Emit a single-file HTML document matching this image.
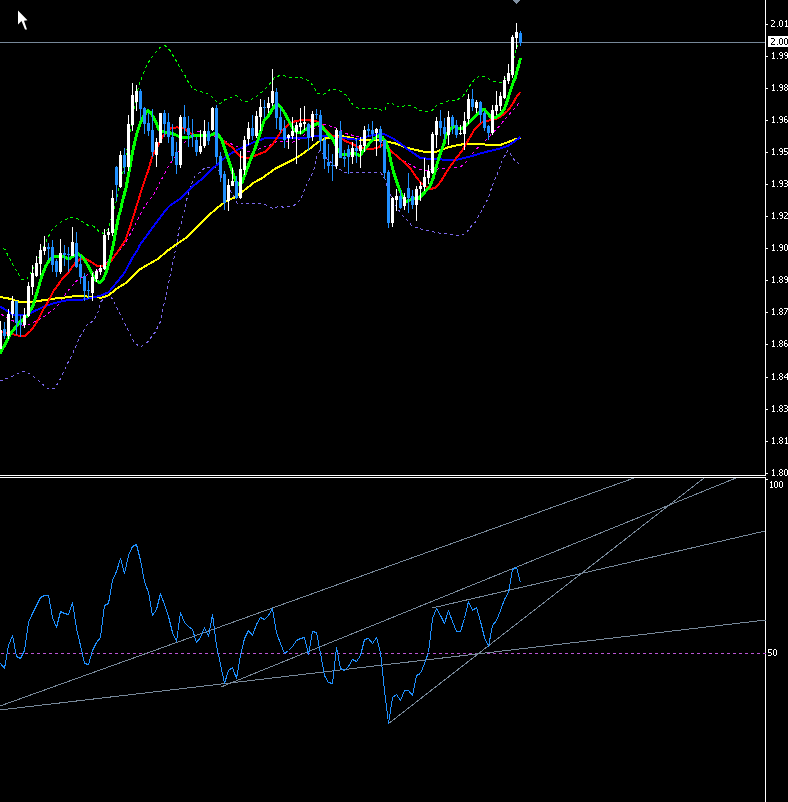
<!DOCTYPE html>
<html><head><meta charset="utf-8"><style>
html,body{margin:0;padding:0;background:#000;width:788px;height:802px;overflow:hidden}
svg{display:block}
.t{font-family:"Liberation Sans",sans-serif;font-size:9.5px;fill:#fff}
.tg{filter:grayscale(1)}
</style></head><body>
<svg width="788" height="802" viewBox="0 0 788 802">
<rect width="788" height="802" fill="#000"/>
<line x1="0" y1="42.5" x2="765" y2="42.5" stroke="#778899" stroke-width="1"/>
<path d="M513 0h7v1h-7zM514 1h5v1h-5zM515 2h3v1h-3zM516 3h1v1h-1z" fill="#8090a2"/>
<polyline points="3,248 5.6,250.2 7.5,254.7 11.4,261.5 14.1,267.2 17.9,273.3 21.3,279.4 26.7,279.4 30.1,273.7 33.9,266.9 37.3,260.3 45.4,243 48,237.4 51.5,230.8 57,225.2 63.1,220.7 69.7,217.6 75.3,217.6 81.4,221 87.5,225 93.6,226.2 98.7,231.3 103.6,233.5 109.1,227.9 110.2,221.8 114.2,209.6 115.7,202.5 117.8,196.4 118.3,191.3 122.8,173 130.3,131 131.3,125.8 134.4,107.6 137.9,89.3 139.1,84.8 141.7,77.7 144.2,71.1 146.8,65 150.3,59.4 155.4,52.8 160,47.3 165,45.7 170.6,51.3 174.2,57.4 177.7,63.5 181.3,69.6 184.8,75.2 187.9,81.3 191.9,87.4 198,91.4 204.1,92.4 209.7,94.5 214.5,100 219.5,104 224.6,100 230.7,97.4 236.3,95.4 241.4,100.5 247.5,101.5 253.5,98.4 259.6,93.9 265.1,89.4 269.6,83.9 274.2,77.8 280.3,75.2 286.4,76.2 292.5,78.3 298.6,76.8 304.2,78.8 310.3,81.8 313.8,87.4 317.9,93.5 323.5,94.5 329.5,90 335.6,89.4 341.1,91.5 347.2,96.1 350.7,102.2 355.3,107.3 361.4,108.8 367.5,108.3 373.6,108.3 379.7,109.8 384.7,110.8 386.8,104.2 390.8,102.2 396.9,106.8 403,106.2 409.1,105.2 414.5,107.1 420.1,110.6 426.2,111.6 432.3,110.1 437.4,104.5 443.5,103 449.6,100.5 455.7,100 461.7,97.9 465.8,91.8 469.4,86.2 473.9,80.2 479.5,75.6 485.2,76.7 491.4,80.7 497.5,82.6 502.5,82.2 510.4,72.6 514.6,55 515.7,50.1 518.4,43.6 520,40" fill="none" stroke="#00ff00" stroke-width="1" stroke-linejoin="round" stroke-dasharray="3,3" shape-rendering="crispEdges"/>
<polyline points="0,381 9.1,377.7 22.8,371.3 29.7,373.6 37.7,380 48,389 54.8,388 60.5,378.8 66.2,366.2 73.1,352.5 80,336.5 86.8,325 93.7,320.6 98.2,311.4 100.4,302 106,297 110.5,296.3 113.6,301 116.6,307.5 120.7,315 129,332 134.8,343.4 140.5,346.8 147.3,342.3 155.3,332 161,320.6 162.6,309.7 166,296 169.5,278.2 173.6,259.7 176.4,245.3 179.1,228.8 181.2,224 183.9,212.3 186.6,200 188.6,192.8 192.1,182.6 195.2,175.5 200.2,172.5 205.3,167.4 211.4,167.4 217.5,168 222.6,179 233.7,196 236.8,203 242.9,204 249,203.5 255.1,203 261.2,203.5 266.1,205.1 272.2,208.2 278.3,206.6 284.4,207.2 290.5,206.1 296,204.6 300.6,199 303.7,191.9 306.2,185.8 309.2,179.7 312.3,173.7 314.3,168.1 315.6,162.5 316.9,155.9 319.9,150.3 327.5,159.4 337.5,167.6 344.1,172.2 350.2,172.7 380.7,172.7 385.2,179.3 386.3,184.4 394.4,203.7 397.9,208.7 401.5,214.8 407.1,220.1 412.2,226.2 418.3,228.2 424.4,230.3 430.5,230.8 436,232.8 442.6,233.3 448.7,234.3 454.3,235.3 460.9,235.3 465.5,233.8 470,227.7 475.1,222.6 478.7,216 482,210 485.1,204 488.1,198.4 490.2,192.3 492,186 494.5,180.4 497.1,174.3 499.6,168.2 501.6,162.1 504.7,156 507.7,150.5 510.8,154.5 514.3,160.1 518.9,163.7" fill="none" stroke="#7b68ee" stroke-width="1" stroke-linejoin="round" stroke-dasharray="3,3" shape-rendering="crispEdges"/>
<polyline points="1.1,314 4,316 14.6,321.6 20.2,326 27,325.6 33.7,322.2 39.3,319.4 45,316 50.5,311.5 57.2,306.5 65.1,294.7 69.7,288.7 74.8,282.6 79,279 86,275.5 98.2,270 120.7,249 125.4,243 128.4,237.5 131.5,232 135,224.8 140.6,213.7 143.5,208.2 148.5,201 153.6,195 156.7,188.9 159.7,182.8 162.8,177.2 165.8,171.1 168.9,165 172.9,160 185.1,141.7 190.2,136.1 195.2,132 202.3,131 250,152.2 257.1,149.6 262.2,147.6 268.6,145.7 275.2,142.2 280.3,141.2 286.4,141.7 292.5,142.2 299.1,139.6 304.7,134.1 323,124 329,125.5 334.1,127.5 339.6,129.1 346.2,133.7 381.2,142.3 389.8,149.9 393.9,154 400,159 406,162.1 412.1,165.6 418.6,169.4 424.2,170.5 431.3,169.9 442.5,168.4 454.6,167.4 460.7,166.9 465.8,162.3 475.2,150.5 479.8,145.4 486.4,139.8 491,134.7 497.6,128.1 502.1,122.6 507.4,116.5 512.4,110.7 517.7,104.7 520,102" fill="none" stroke="#ff00ff" stroke-width="1" stroke-linejoin="round" stroke-dasharray="3,3" shape-rendering="crispEdges"/>
<polyline points="0,297 9,298.6 20.2,302 33.7,302 42.6,300.3 53.9,298.6 70,297 76,295.6 101.4,297.7 108.5,295.3 118.6,287.2 126.8,282.6 133.9,275 140,269.3 148.2,264.5 157.8,259 167.4,250.8 177,243.9 185.3,238.4 190.8,233.6 204.5,219.2 217.5,207.5 226.6,200.9 235.8,196.9 244.9,189.7 254,182.6 264,177 268.1,173.7 276.2,168.1 285.4,163.5 294.5,158.9 302.6,153.9 310.8,147.8 318.9,141.7 325,138.6 333.1,137.1 340,136.1 346.2,136.7 352.2,138.2 360.4,139.7 369.5,140.3 376.6,139.7 382.7,140.3 389.8,142.3 396.9,143.8 405,147.4 412,149.1 424.2,151.7 436.4,151.7 448.5,147.1 460.7,144.6 469.9,143.6 484.4,143.9 485.4,144.9 500.6,144.9 508.7,141.8 514.8,139.3 520.4,137.8" fill="none" stroke="#ffff00" stroke-width="2" stroke-linejoin="round" shape-rendering="crispEdges"/>
<polyline points="0,306.5 9,312 13.5,315 25.8,315 33.7,311.5 45,306 58.4,302 70,299.7 76,300 84.1,299.4 100.4,295.8 108.5,292.3 116.6,282.6 124.7,272.5 132.9,256.8 137.6,250 140,244.6 148.2,233.6 157.8,220.6 162.9,213.7 167.4,208.2 170,205.5 178.4,200 184,195.3 192.1,186.7 201.3,179.6 210.4,170.5 218.5,163.4 226.6,156.2 234.8,151.2 243.9,146.6 253,142.5 260.1,140 264,138.5 266.1,137.6 280.3,137.7 305.7,137.7 317.9,135.6 331.1,136.1 340,137.7 348.2,138.7 356.3,139.7 366.5,136.7 374.6,134.7 382.7,133.7 387.8,135.7 394.9,139.7 402,144.8 409.1,150.4 412,152.2 420.1,157.8 432.3,159.3 456.7,159.8 460,159.1 470.2,156.5 485.4,152 500.6,148.4 508.7,145.4 514.8,141.3 520.4,136.8" fill="none" stroke="#0000ff" stroke-width="2" stroke-linejoin="round" shape-rendering="crispEdges"/>
<polyline points="0,331 12.3,334 20.2,336.2 25.3,335.7 30.6,331 36.7,322.3 43.7,308.8 48.9,300.5 53.8,290.5 58.4,284.6 60.6,281 68.7,272 75.3,262.8 80,259.2 86,259.2 91,261.8 96.8,265.9 102.9,265.9 110.5,261.8 116.6,253.2 125.4,240 129.4,228.9 135.4,210 142.5,186.9 148.5,169.6 152.6,155.4 158.7,144.2 162.8,136.1 166.9,131.9 170.9,128.4 177,127.4 183.1,127.9 190.1,133 197.2,136 204.3,135 211.4,134.5 217.5,135 224.6,142 232.7,147.6 236.8,153.2 241.9,157.3 248,158.3 255.1,155.7 264,152.2 266.1,151.3 271.2,146.2 276.2,139.1 281.3,131.1 289.4,124 294.5,121.4 302.6,119.9 309.7,120.4 316.9,121.4 321.9,125 327,131.1 332.1,136.1 338,136.7 346.2,141.3 353.3,144.3 359.4,147.9 366.5,148.9 376.6,148.4 381.7,145.3 386.8,144.8 390.8,150.9 396.9,156 405,163.1 411.1,169.2 416,176.8 421.6,183.7 430.3,189.2 436.4,187.2 441.4,180.6 447.5,170.5 454.6,160.3 461.7,151.2 468.9,139 474.9,128.9 481,122.8 486.1,120.8 491.4,120.3 497.5,118.4 502.8,114.9 507.4,111.1 512,105 515.8,98.2 520,92.1" fill="none" stroke="#ff0000" stroke-width="2" stroke-linejoin="round" shape-rendering="crispEdges"/>
<polyline points="0,353.6 11.2,332.8 19,322.7 27,316 32.5,307 37.8,290 41.8,276 45.4,266.9 49.4,259.7 53.5,256.7 59.6,256.2 63.7,256.7 68.7,259.2 73.8,255.7 78.4,253.7 83.5,258.2 87.2,264.4 91.2,271.5 94.8,279.6 99.4,282.6 102.9,279.6 106.5,271.5 110.5,257.3 113.5,244 115.7,231 118.8,215.7 120.6,210 121.8,203.5 126,188 129.4,170 132.5,152 136.4,135 140.5,122.8 144.5,114.7 147.6,110.6 150.6,112.6 154.7,119.7 158.7,128.9 162.8,131.9 168.9,132.4 175,134.5 181,137.5 187.2,138 196.2,135 202.3,135.5 208.4,136 214.5,133.5 217.5,134 221.6,139 225.6,151.2 229.7,163.4 233.7,175.5 237.3,184.7 241.9,182.6 246.9,169.4 251,158.3 255.1,148.1 259,137 264,120.8 269.1,114.8 274.2,106.2 278.3,104.7 283.4,110.8 288.4,119.9 292.5,127.5 296.5,132 300.6,133.1 304.7,130 309.7,127 314.8,125 317.9,123 323,128 328,134.1 333.1,139.2 337,148 341,154 344.1,155 352.2,153 359.9,155.5 366.5,146.9 372.5,139.7 378.6,135.7 382.7,137.7 385.7,141.8 388.8,150.9 391.3,163.1 393.9,173.2 397.9,185.4 402,195.5 406,201.6 411.1,199.6 416,197.6 418.1,198.9 424.2,192.8 429.8,186.7 433.3,177.6 436.9,164.4 440.4,153.2 444.5,142 445.5,136 451.4,128 454.4,126.5 457,128 462.8,128 466.2,125.2 470,121.4 472.9,118.7 479,112.6 484.1,109.1 486.9,112.3 491.4,117.6 496,117.2 500.6,114.2 504.4,108.8 506.7,102.7 509.7,92.8 512.7,83.7 515,78.4 516.9,71.5 520.6,58.1" fill="none" stroke="#00ff00" stroke-width="3" stroke-linejoin="round" shape-rendering="crispEdges"/>
<rect x="0" y="321" width="1" height="28" fill="#ffffff"/>
<rect x="-1" y="330" width="3" height="19" fill="#ffffff"/>
<rect x="4" y="322" width="1" height="17" fill="#2090ff"/>
<rect x="3" y="329" width="3" height="7" fill="#2090ff"/>
<rect x="8" y="309" width="1" height="30" fill="#ffffff"/>
<rect x="7" y="314" width="3" height="22" fill="#ffffff"/>
<rect x="12" y="296" width="1" height="22" fill="#ffffff"/>
<rect x="11" y="301" width="3" height="13" fill="#ffffff"/>
<rect x="16" y="301" width="1" height="34" fill="#2090ff"/>
<rect x="15" y="301" width="3" height="22" fill="#2090ff"/>
<rect x="20" y="315" width="1" height="22" fill="#2090ff"/>
<rect x="19" y="323" width="3" height="2" fill="#2090ff"/>
<rect x="24" y="308" width="1" height="20" fill="#ffffff"/>
<rect x="23" y="315" width="3" height="10" fill="#ffffff"/>
<rect x="28" y="282" width="1" height="35" fill="#ffffff"/>
<rect x="27" y="286" width="3" height="30" fill="#ffffff"/>
<rect x="32" y="265" width="1" height="30" fill="#ffffff"/>
<rect x="31" y="273" width="3" height="14" fill="#ffffff"/>
<rect x="36" y="256" width="1" height="21" fill="#ffffff"/>
<rect x="35" y="263" width="3" height="13" fill="#ffffff"/>
<rect x="40" y="244" width="1" height="31" fill="#ffffff"/>
<rect x="39" y="250" width="3" height="14" fill="#ffffff"/>
<rect x="44" y="236" width="1" height="19" fill="#ffffff"/>
<rect x="43" y="247" width="3" height="4" fill="#ffffff"/>
<rect x="48" y="243" width="1" height="17" fill="#2090ff"/>
<rect x="47" y="247" width="3" height="2" fill="#2090ff"/>
<rect x="52" y="240" width="1" height="32" fill="#2090ff"/>
<rect x="51" y="247" width="3" height="18" fill="#2090ff"/>
<rect x="56" y="259" width="1" height="18" fill="#2090ff"/>
<rect x="55" y="261" width="3" height="11" fill="#2090ff"/>
<rect x="60" y="239" width="1" height="35" fill="#ffffff"/>
<rect x="59" y="253" width="3" height="19" fill="#ffffff"/>
<rect x="64" y="245" width="1" height="21" fill="#2090ff"/>
<rect x="63" y="253" width="3" height="2" fill="#2090ff"/>
<rect x="68" y="247" width="1" height="25" fill="#2090ff"/>
<rect x="67" y="254" width="3" height="1" fill="#2090ff"/>
<rect x="72" y="227" width="1" height="29" fill="#ffffff"/>
<rect x="71" y="242" width="3" height="14" fill="#ffffff"/>
<rect x="76" y="232" width="1" height="36" fill="#2090ff"/>
<rect x="75" y="243" width="3" height="24" fill="#2090ff"/>
<rect x="80" y="255" width="1" height="29" fill="#2090ff"/>
<rect x="79" y="264" width="3" height="13" fill="#2090ff"/>
<rect x="84" y="273" width="1" height="28" fill="#2090ff"/>
<rect x="83" y="276" width="3" height="15" fill="#2090ff"/>
<rect x="88" y="281" width="1" height="18" fill="#2090ff"/>
<rect x="87" y="290" width="3" height="1" fill="#2090ff"/>
<rect x="92" y="273" width="1" height="28" fill="#ffffff"/>
<rect x="91" y="277" width="3" height="16" fill="#ffffff"/>
<rect x="96" y="269" width="1" height="13" fill="#ffffff"/>
<rect x="95" y="271" width="3" height="8" fill="#ffffff"/>
<rect x="100" y="265" width="1" height="10" fill="#ffffff"/>
<rect x="99" y="268" width="3" height="4" fill="#ffffff"/>
<rect x="104" y="229" width="1" height="41" fill="#ffffff"/>
<rect x="103" y="235" width="3" height="34" fill="#ffffff"/>
<rect x="108" y="228" width="1" height="12" fill="#ffffff"/>
<rect x="107" y="232" width="3" height="3" fill="#ffffff"/>
<rect x="112" y="190" width="1" height="46" fill="#ffffff"/>
<rect x="111" y="198" width="3" height="35" fill="#ffffff"/>
<rect x="116" y="166" width="1" height="35" fill="#2090ff"/>
<rect x="115" y="167" width="3" height="18" fill="#2090ff"/>
<rect x="120" y="151" width="1" height="37" fill="#ffffff"/>
<rect x="119" y="155" width="3" height="32" fill="#ffffff"/>
<rect x="124" y="148" width="1" height="26" fill="#2090ff"/>
<rect x="123" y="155" width="3" height="12" fill="#2090ff"/>
<rect x="128" y="115" width="1" height="56" fill="#ffffff"/>
<rect x="127" y="124" width="3" height="43" fill="#ffffff"/>
<rect x="132" y="83" width="1" height="48" fill="#ffffff"/>
<rect x="131" y="95" width="3" height="30" fill="#ffffff"/>
<rect x="136" y="85" width="1" height="26" fill="#ffffff"/>
<rect x="135" y="91" width="3" height="11" fill="#ffffff"/>
<rect x="140" y="89" width="1" height="31" fill="#2090ff"/>
<rect x="139" y="91" width="3" height="18" fill="#2090ff"/>
<rect x="144" y="107" width="1" height="27" fill="#2090ff"/>
<rect x="143" y="108" width="3" height="16" fill="#2090ff"/>
<rect x="148" y="113" width="1" height="23" fill="#2090ff"/>
<rect x="147" y="123" width="3" height="8" fill="#2090ff"/>
<rect x="152" y="109" width="1" height="48" fill="#2090ff"/>
<rect x="151" y="130" width="3" height="22" fill="#2090ff"/>
<rect x="156" y="138" width="1" height="29" fill="#ffffff"/>
<rect x="155" y="142" width="3" height="13" fill="#ffffff"/>
<rect x="160" y="113" width="1" height="30" fill="#ffffff"/>
<rect x="159" y="113" width="3" height="30" fill="#ffffff"/>
<rect x="164" y="110" width="1" height="27" fill="#2090ff"/>
<rect x="163" y="113" width="3" height="11" fill="#2090ff"/>
<rect x="168" y="113" width="1" height="30" fill="#2090ff"/>
<rect x="167" y="122" width="3" height="15" fill="#2090ff"/>
<rect x="172" y="124" width="1" height="37" fill="#2090ff"/>
<rect x="171" y="137" width="3" height="19" fill="#2090ff"/>
<rect x="176" y="142" width="1" height="32" fill="#2090ff"/>
<rect x="175" y="152" width="3" height="13" fill="#2090ff"/>
<rect x="180" y="115" width="1" height="53" fill="#ffffff"/>
<rect x="179" y="117" width="3" height="48" fill="#ffffff"/>
<rect x="184" y="105" width="1" height="29" fill="#2090ff"/>
<rect x="183" y="117" width="3" height="11" fill="#2090ff"/>
<rect x="188" y="116" width="1" height="31" fill="#2090ff"/>
<rect x="187" y="128" width="3" height="7" fill="#2090ff"/>
<rect x="192" y="119" width="1" height="28" fill="#2090ff"/>
<rect x="191" y="135" width="3" height="2" fill="#2090ff"/>
<rect x="196" y="137" width="1" height="19" fill="#2090ff"/>
<rect x="195" y="140" width="3" height="12" fill="#2090ff"/>
<rect x="200" y="130" width="1" height="24" fill="#ffffff"/>
<rect x="199" y="146" width="3" height="6" fill="#ffffff"/>
<rect x="204" y="120" width="1" height="28" fill="#ffffff"/>
<rect x="203" y="131" width="3" height="15" fill="#ffffff"/>
<rect x="208" y="122" width="1" height="23" fill="#2090ff"/>
<rect x="207" y="131" width="3" height="10" fill="#2090ff"/>
<rect x="212" y="107" width="1" height="24" fill="#ffffff"/>
<rect x="211" y="108" width="3" height="22" fill="#ffffff"/>
<rect x="216" y="105" width="1" height="59" fill="#2090ff"/>
<rect x="215" y="108" width="3" height="49" fill="#2090ff"/>
<rect x="220" y="152" width="1" height="30" fill="#2090ff"/>
<rect x="219" y="156" width="3" height="19" fill="#2090ff"/>
<rect x="224" y="171" width="1" height="39" fill="#2090ff"/>
<rect x="223" y="174" width="3" height="29" fill="#2090ff"/>
<rect x="228" y="179" width="1" height="32" fill="#ffffff"/>
<rect x="227" y="185" width="3" height="16" fill="#ffffff"/>
<rect x="232" y="168" width="1" height="18" fill="#ffffff"/>
<rect x="231" y="181" width="3" height="5" fill="#ffffff"/>
<rect x="236" y="176" width="1" height="23" fill="#2090ff"/>
<rect x="235" y="181" width="3" height="17" fill="#2090ff"/>
<rect x="240" y="151" width="1" height="48" fill="#ffffff"/>
<rect x="239" y="169" width="3" height="29" fill="#ffffff"/>
<rect x="244" y="136" width="1" height="39" fill="#ffffff"/>
<rect x="243" y="140" width="3" height="30" fill="#ffffff"/>
<rect x="248" y="122" width="1" height="23" fill="#ffffff"/>
<rect x="247" y="128" width="3" height="11" fill="#ffffff"/>
<rect x="252" y="115" width="1" height="25" fill="#2090ff"/>
<rect x="251" y="128" width="3" height="8" fill="#2090ff"/>
<rect x="256" y="111" width="1" height="27" fill="#ffffff"/>
<rect x="255" y="116" width="3" height="20" fill="#ffffff"/>
<rect x="260" y="99" width="1" height="32" fill="#ffffff"/>
<rect x="259" y="107" width="3" height="10" fill="#ffffff"/>
<rect x="264" y="100" width="1" height="18" fill="#2090ff"/>
<rect x="263" y="107" width="3" height="1" fill="#2090ff"/>
<rect x="268" y="97" width="1" height="16" fill="#ffffff"/>
<rect x="267" y="103" width="3" height="5" fill="#ffffff"/>
<rect x="272" y="69" width="1" height="37" fill="#ffffff"/>
<rect x="271" y="91" width="3" height="12" fill="#ffffff"/>
<rect x="276" y="88" width="1" height="41" fill="#2090ff"/>
<rect x="275" y="92" width="3" height="26" fill="#2090ff"/>
<rect x="280" y="108" width="1" height="25" fill="#2090ff"/>
<rect x="279" y="117" width="3" height="13" fill="#2090ff"/>
<rect x="284" y="120" width="1" height="28" fill="#2090ff"/>
<rect x="283" y="128" width="3" height="12" fill="#2090ff"/>
<rect x="288" y="134" width="1" height="15" fill="#ffffff"/>
<rect x="287" y="135" width="3" height="3" fill="#ffffff"/>
<rect x="292" y="117" width="1" height="22" fill="#ffffff"/>
<rect x="291" y="131" width="3" height="5" fill="#ffffff"/>
<rect x="296" y="122" width="1" height="42" fill="#ffffff"/>
<rect x="295" y="125" width="3" height="7" fill="#ffffff"/>
<rect x="300" y="108" width="1" height="26" fill="#ffffff"/>
<rect x="299" y="123" width="3" height="4" fill="#ffffff"/>
<rect x="304" y="106" width="1" height="24" fill="#ffffff"/>
<rect x="303" y="122" width="3" height="2" fill="#ffffff"/>
<rect x="308" y="123" width="1" height="28" fill="#2090ff"/>
<rect x="307" y="124" width="3" height="14" fill="#2090ff"/>
<rect x="312" y="111" width="1" height="30" fill="#ffffff"/>
<rect x="311" y="114" width="3" height="23" fill="#ffffff"/>
<rect x="316" y="109" width="1" height="10" fill="#2090ff"/>
<rect x="315" y="114" width="3" height="1" fill="#2090ff"/>
<rect x="320" y="110" width="1" height="41" fill="#2090ff"/>
<rect x="319" y="115" width="3" height="26" fill="#2090ff"/>
<rect x="324" y="137" width="1" height="32" fill="#2090ff"/>
<rect x="323" y="140" width="3" height="19" fill="#2090ff"/>
<rect x="328" y="144" width="1" height="29" fill="#2090ff"/>
<rect x="327" y="162" width="3" height="4" fill="#2090ff"/>
<rect x="332" y="154" width="1" height="27" fill="#2090ff"/>
<rect x="331" y="165" width="3" height="1" fill="#2090ff"/>
<rect x="336" y="128" width="1" height="41" fill="#ffffff"/>
<rect x="335" y="130" width="3" height="36" fill="#ffffff"/>
<rect x="340" y="121" width="1" height="37" fill="#2090ff"/>
<rect x="339" y="131" width="3" height="27" fill="#2090ff"/>
<rect x="344" y="150" width="1" height="17" fill="#2090ff"/>
<rect x="343" y="157" width="3" height="2" fill="#2090ff"/>
<rect x="348" y="145" width="1" height="29" fill="#2090ff"/>
<rect x="347" y="149" width="3" height="8" fill="#2090ff"/>
<rect x="352" y="142" width="1" height="22" fill="#ffffff"/>
<rect x="351" y="148" width="3" height="9" fill="#ffffff"/>
<rect x="356" y="139" width="1" height="24" fill="#2090ff"/>
<rect x="355" y="148" width="3" height="3" fill="#2090ff"/>
<rect x="360" y="137" width="1" height="31" fill="#ffffff"/>
<rect x="359" y="145" width="3" height="6" fill="#ffffff"/>
<rect x="364" y="126" width="1" height="26" fill="#ffffff"/>
<rect x="363" y="130" width="3" height="16" fill="#ffffff"/>
<rect x="368" y="124" width="1" height="13" fill="#2090ff"/>
<rect x="367" y="129" width="3" height="2" fill="#2090ff"/>
<rect x="372" y="121" width="1" height="19" fill="#2090ff"/>
<rect x="371" y="130" width="3" height="4" fill="#2090ff"/>
<rect x="376" y="128" width="1" height="28" fill="#ffffff"/>
<rect x="375" y="129" width="3" height="4" fill="#ffffff"/>
<rect x="380" y="126" width="1" height="22" fill="#2090ff"/>
<rect x="379" y="129" width="3" height="13" fill="#2090ff"/>
<rect x="384" y="140" width="1" height="39" fill="#2090ff"/>
<rect x="383" y="140" width="3" height="33" fill="#2090ff"/>
<rect x="388" y="170" width="1" height="58" fill="#2090ff"/>
<rect x="387" y="172" width="3" height="51" fill="#2090ff"/>
<rect x="392" y="197" width="1" height="30" fill="#ffffff"/>
<rect x="391" y="198" width="3" height="25" fill="#ffffff"/>
<rect x="396" y="189" width="1" height="22" fill="#ffffff"/>
<rect x="395" y="196" width="3" height="4" fill="#ffffff"/>
<rect x="400" y="190" width="1" height="19" fill="#2090ff"/>
<rect x="399" y="196" width="3" height="12" fill="#2090ff"/>
<rect x="404" y="193" width="1" height="17" fill="#ffffff"/>
<rect x="403" y="197" width="3" height="9" fill="#ffffff"/>
<rect x="408" y="173" width="1" height="40" fill="#2090ff"/>
<rect x="407" y="188" width="3" height="10" fill="#2090ff"/>
<rect x="412" y="190" width="1" height="19" fill="#2090ff"/>
<rect x="411" y="196" width="3" height="9" fill="#2090ff"/>
<rect x="416" y="186" width="1" height="35" fill="#ffffff"/>
<rect x="415" y="189" width="3" height="16" fill="#ffffff"/>
<rect x="420" y="182" width="1" height="19" fill="#ffffff"/>
<rect x="419" y="186" width="3" height="3" fill="#ffffff"/>
<rect x="424" y="158" width="1" height="33" fill="#ffffff"/>
<rect x="423" y="177" width="3" height="10" fill="#ffffff"/>
<rect x="428" y="165" width="1" height="19" fill="#ffffff"/>
<rect x="427" y="171" width="3" height="7" fill="#ffffff"/>
<rect x="432" y="132" width="1" height="42" fill="#ffffff"/>
<rect x="431" y="134" width="3" height="39" fill="#ffffff"/>
<rect x="436" y="117" width="1" height="31" fill="#ffffff"/>
<rect x="435" y="121" width="3" height="14" fill="#ffffff"/>
<rect x="440" y="110" width="1" height="26" fill="#2090ff"/>
<rect x="439" y="121" width="3" height="7" fill="#2090ff"/>
<rect x="444" y="118" width="1" height="22" fill="#2090ff"/>
<rect x="443" y="127" width="3" height="7" fill="#2090ff"/>
<rect x="448" y="111" width="1" height="34" fill="#ffffff"/>
<rect x="447" y="117" width="3" height="18" fill="#ffffff"/>
<rect x="452" y="115" width="1" height="19" fill="#2090ff"/>
<rect x="451" y="117" width="3" height="9" fill="#2090ff"/>
<rect x="456" y="120" width="1" height="18" fill="#2090ff"/>
<rect x="455" y="125" width="3" height="10" fill="#2090ff"/>
<rect x="460" y="125" width="1" height="10" fill="#ffffff"/>
<rect x="459" y="133" width="3" height="1" fill="#ffffff"/>
<rect x="464" y="112" width="1" height="38" fill="#ffffff"/>
<rect x="463" y="121" width="3" height="13" fill="#ffffff"/>
<rect x="468" y="94" width="1" height="30" fill="#ffffff"/>
<rect x="467" y="99" width="3" height="20" fill="#ffffff"/>
<rect x="472" y="89" width="1" height="22" fill="#2090ff"/>
<rect x="471" y="99" width="3" height="8" fill="#2090ff"/>
<rect x="476" y="100" width="1" height="13" fill="#ffffff"/>
<rect x="475" y="102" width="3" height="6" fill="#ffffff"/>
<rect x="480" y="101" width="1" height="22" fill="#2090ff"/>
<rect x="479" y="102" width="3" height="13" fill="#2090ff"/>
<rect x="484" y="111" width="1" height="20" fill="#2090ff"/>
<rect x="483" y="113" width="3" height="15" fill="#2090ff"/>
<rect x="488" y="125" width="1" height="15" fill="#2090ff"/>
<rect x="487" y="126" width="3" height="7" fill="#2090ff"/>
<rect x="492" y="105" width="1" height="30" fill="#ffffff"/>
<rect x="491" y="110" width="3" height="23" fill="#ffffff"/>
<rect x="496" y="91" width="1" height="24" fill="#ffffff"/>
<rect x="495" y="105" width="3" height="6" fill="#ffffff"/>
<rect x="500" y="92" width="1" height="19" fill="#ffffff"/>
<rect x="499" y="96" width="3" height="10" fill="#ffffff"/>
<rect x="504" y="76" width="1" height="23" fill="#ffffff"/>
<rect x="503" y="80" width="3" height="18" fill="#ffffff"/>
<rect x="508" y="64" width="1" height="20" fill="#ffffff"/>
<rect x="507" y="73" width="3" height="8" fill="#ffffff"/>
<rect x="512" y="35" width="1" height="43" fill="#ffffff"/>
<rect x="511" y="37" width="3" height="38" fill="#ffffff"/>
<rect x="516" y="23" width="1" height="26" fill="#ffffff"/>
<rect x="515" y="32" width="3" height="6" fill="#ffffff"/>
<rect x="520" y="31" width="1" height="15" fill="#2090ff"/>
<rect x="519" y="33" width="3" height="10" fill="#2090ff"/>
<rect x="0" y="475" width="766" height="1" fill="#fff"/>
<rect x="0" y="477" width="766" height="1" fill="#fff"/>
<rect x="765" y="0" width="1" height="802" fill="#fff"/>
<rect x="765" y="476" width="1" height="1" fill="#000"/>
<rect x="766" y="24" width="2" height="1" fill="#fff"/>
<rect x="766" y="56" width="2" height="1" fill="#fff"/>
<rect x="766" y="88" width="2" height="1" fill="#fff"/>
<rect x="766" y="120" width="2" height="1" fill="#fff"/>
<rect x="766" y="152" width="2" height="1" fill="#fff"/>
<rect x="766" y="184" width="2" height="1" fill="#fff"/>
<rect x="766" y="216" width="2" height="1" fill="#fff"/>
<rect x="766" y="248" width="2" height="1" fill="#fff"/>
<rect x="766" y="280" width="2" height="1" fill="#fff"/>
<rect x="766" y="312" width="2" height="1" fill="#fff"/>
<rect x="766" y="344" width="2" height="1" fill="#fff"/>
<rect x="766" y="377" width="2" height="1" fill="#fff"/>
<rect x="766" y="409" width="2" height="1" fill="#fff"/>
<rect x="766" y="441" width="2" height="1" fill="#fff"/>
<rect x="766" y="473" width="2" height="1" fill="#fff"/>
<path d="M771 20h3v1h-3zM774 21h1v1h-1zM774 22h1v1h-1zM773 23h1v1h-1zM772 24h1v1h-1zM771 25h1v1h-1zM771 26h4v1h-4zM777 26h1v1h-1zM780 20h2v1h-2zM779 21h1v1h-1zM782 21h1v1h-1zM779 22h1v1h-1zM782 22h1v1h-1zM779 23h1v1h-1zM782 23h1v1h-1zM779 24h1v1h-1zM782 24h1v1h-1zM779 25h1v1h-1zM782 25h1v1h-1zM780 26h2v1h-2zM786 20h1v1h-1zM785 21h2v1h-2zM786 22h1v1h-1zM786 23h1v1h-1zM786 24h1v1h-1zM786 25h1v1h-1zM785 26h3v1h-3zM773 52h1v1h-1zM772 53h2v1h-2zM773 54h1v1h-1zM773 55h1v1h-1zM773 56h1v1h-1zM773 57h1v1h-1zM772 58h3v1h-3zM777 58h1v1h-1zM780 52h2v1h-2zM779 53h1v1h-1zM782 53h1v1h-1zM779 54h1v1h-1zM782 54h1v1h-1zM780 55h3v1h-3zM782 56h1v1h-1zM782 57h1v1h-1zM780 58h2v1h-2zM785 52h2v1h-2zM784 53h1v1h-1zM787 53h1v1h-1zM784 54h1v1h-1zM787 54h1v1h-1zM785 55h3v1h-3zM787 56h1v1h-1zM787 57h1v1h-1zM785 58h2v1h-2zM773 84h1v1h-1zM772 85h2v1h-2zM773 86h1v1h-1zM773 87h1v1h-1zM773 88h1v1h-1zM773 89h1v1h-1zM772 90h3v1h-3zM777 90h1v1h-1zM780 84h2v1h-2zM779 85h1v1h-1zM782 85h1v1h-1zM779 86h1v1h-1zM782 86h1v1h-1zM780 87h3v1h-3zM782 88h1v1h-1zM782 89h1v1h-1zM780 90h2v1h-2zM785 84h2v1h-2zM784 85h1v1h-1zM787 85h1v1h-1zM784 86h1v1h-1zM787 86h1v1h-1zM785 87h2v1h-2zM784 88h1v1h-1zM787 88h1v1h-1zM784 89h1v1h-1zM787 89h1v1h-1zM785 90h2v1h-2zM773 116h1v1h-1zM772 117h2v1h-2zM773 118h1v1h-1zM773 119h1v1h-1zM773 120h1v1h-1zM773 121h1v1h-1zM772 122h3v1h-3zM777 122h1v1h-1zM780 116h2v1h-2zM779 117h1v1h-1zM782 117h1v1h-1zM779 118h1v1h-1zM782 118h1v1h-1zM780 119h3v1h-3zM782 120h1v1h-1zM782 121h1v1h-1zM780 122h2v1h-2zM785 116h2v1h-2zM784 117h1v1h-1zM784 118h1v1h-1zM784 119h3v1h-3zM784 120h1v1h-1zM787 120h1v1h-1zM784 121h1v1h-1zM787 121h1v1h-1zM785 122h2v1h-2zM773 148h1v1h-1zM772 149h2v1h-2zM773 150h1v1h-1zM773 151h1v1h-1zM773 152h1v1h-1zM773 153h1v1h-1zM772 154h3v1h-3zM777 154h1v1h-1zM780 148h2v1h-2zM779 149h1v1h-1zM782 149h1v1h-1zM779 150h1v1h-1zM782 150h1v1h-1zM780 151h3v1h-3zM782 152h1v1h-1zM782 153h1v1h-1zM780 154h2v1h-2zM784 148h4v1h-4zM784 149h1v1h-1zM784 150h1v1h-1zM784 151h3v1h-3zM787 152h1v1h-1zM787 153h1v1h-1zM784 154h3v1h-3zM773 180h1v1h-1zM772 181h2v1h-2zM773 182h1v1h-1zM773 183h1v1h-1zM773 184h1v1h-1zM773 185h1v1h-1zM772 186h3v1h-3zM777 186h1v1h-1zM780 180h2v1h-2zM779 181h1v1h-1zM782 181h1v1h-1zM779 182h1v1h-1zM782 182h1v1h-1zM780 183h3v1h-3zM782 184h1v1h-1zM782 185h1v1h-1zM780 186h2v1h-2zM784 180h3v1h-3zM787 181h1v1h-1zM787 182h1v1h-1zM785 183h2v1h-2zM787 184h1v1h-1zM787 185h1v1h-1zM784 186h3v1h-3zM773 212h1v1h-1zM772 213h2v1h-2zM773 214h1v1h-1zM773 215h1v1h-1zM773 216h1v1h-1zM773 217h1v1h-1zM772 218h3v1h-3zM777 218h1v1h-1zM780 212h2v1h-2zM779 213h1v1h-1zM782 213h1v1h-1zM779 214h1v1h-1zM782 214h1v1h-1zM780 215h3v1h-3zM782 216h1v1h-1zM782 217h1v1h-1zM780 218h2v1h-2zM784 212h3v1h-3zM787 213h1v1h-1zM787 214h1v1h-1zM786 215h1v1h-1zM785 216h1v1h-1zM784 217h1v1h-1zM784 218h4v1h-4zM773 244h1v1h-1zM772 245h2v1h-2zM773 246h1v1h-1zM773 247h1v1h-1zM773 248h1v1h-1zM773 249h1v1h-1zM772 250h3v1h-3zM777 250h1v1h-1zM780 244h2v1h-2zM779 245h1v1h-1zM782 245h1v1h-1zM779 246h1v1h-1zM782 246h1v1h-1zM780 247h3v1h-3zM782 248h1v1h-1zM782 249h1v1h-1zM780 250h2v1h-2zM785 244h2v1h-2zM784 245h1v1h-1zM787 245h1v1h-1zM784 246h1v1h-1zM787 246h1v1h-1zM784 247h1v1h-1zM787 247h1v1h-1zM784 248h1v1h-1zM787 248h1v1h-1zM784 249h1v1h-1zM787 249h1v1h-1zM785 250h2v1h-2zM773 276h1v1h-1zM772 277h2v1h-2zM773 278h1v1h-1zM773 279h1v1h-1zM773 280h1v1h-1zM773 281h1v1h-1zM772 282h3v1h-3zM777 282h1v1h-1zM780 276h2v1h-2zM779 277h1v1h-1zM782 277h1v1h-1zM779 278h1v1h-1zM782 278h1v1h-1zM780 279h2v1h-2zM779 280h1v1h-1zM782 280h1v1h-1zM779 281h1v1h-1zM782 281h1v1h-1zM780 282h2v1h-2zM785 276h2v1h-2zM784 277h1v1h-1zM787 277h1v1h-1zM784 278h1v1h-1zM787 278h1v1h-1zM785 279h3v1h-3zM787 280h1v1h-1zM787 281h1v1h-1zM785 282h2v1h-2zM773 308h1v1h-1zM772 309h2v1h-2zM773 310h1v1h-1zM773 311h1v1h-1zM773 312h1v1h-1zM773 313h1v1h-1zM772 314h3v1h-3zM777 314h1v1h-1zM780 308h2v1h-2zM779 309h1v1h-1zM782 309h1v1h-1zM779 310h1v1h-1zM782 310h1v1h-1zM780 311h2v1h-2zM779 312h1v1h-1zM782 312h1v1h-1zM779 313h1v1h-1zM782 313h1v1h-1zM780 314h2v1h-2zM784 308h4v1h-4zM787 309h1v1h-1zM786 310h1v1h-1zM786 311h1v1h-1zM785 312h1v1h-1zM785 313h1v1h-1zM784 314h1v1h-1zM773 340h1v1h-1zM772 341h2v1h-2zM773 342h1v1h-1zM773 343h1v1h-1zM773 344h1v1h-1zM773 345h1v1h-1zM772 346h3v1h-3zM777 346h1v1h-1zM780 340h2v1h-2zM779 341h1v1h-1zM782 341h1v1h-1zM779 342h1v1h-1zM782 342h1v1h-1zM780 343h2v1h-2zM779 344h1v1h-1zM782 344h1v1h-1zM779 345h1v1h-1zM782 345h1v1h-1zM780 346h2v1h-2zM785 340h2v1h-2zM784 341h1v1h-1zM784 342h1v1h-1zM784 343h3v1h-3zM784 344h1v1h-1zM787 344h1v1h-1zM784 345h1v1h-1zM787 345h1v1h-1zM785 346h2v1h-2zM773 373h1v1h-1zM772 374h2v1h-2zM773 375h1v1h-1zM773 376h1v1h-1zM773 377h1v1h-1zM773 378h1v1h-1zM772 379h3v1h-3zM777 379h1v1h-1zM780 373h2v1h-2zM779 374h1v1h-1zM782 374h1v1h-1zM779 375h1v1h-1zM782 375h1v1h-1zM780 376h2v1h-2zM779 377h1v1h-1zM782 377h1v1h-1zM779 378h1v1h-1zM782 378h1v1h-1zM780 379h2v1h-2zM787 373h1v1h-1zM786 374h2v1h-2zM785 375h1v1h-1zM787 375h1v1h-1zM784 376h1v1h-1zM787 376h1v1h-1zM784 377h4v1h-4zM787 378h1v1h-1zM787 379h1v1h-1zM773 405h1v1h-1zM772 406h2v1h-2zM773 407h1v1h-1zM773 408h1v1h-1zM773 409h1v1h-1zM773 410h1v1h-1zM772 411h3v1h-3zM777 411h1v1h-1zM780 405h2v1h-2zM779 406h1v1h-1zM782 406h1v1h-1zM779 407h1v1h-1zM782 407h1v1h-1zM780 408h2v1h-2zM779 409h1v1h-1zM782 409h1v1h-1zM779 410h1v1h-1zM782 410h1v1h-1zM780 411h2v1h-2zM784 405h3v1h-3zM787 406h1v1h-1zM787 407h1v1h-1zM785 408h2v1h-2zM787 409h1v1h-1zM787 410h1v1h-1zM784 411h3v1h-3zM773 437h1v1h-1zM772 438h2v1h-2zM773 439h1v1h-1zM773 440h1v1h-1zM773 441h1v1h-1zM773 442h1v1h-1zM772 443h3v1h-3zM777 443h1v1h-1zM780 437h2v1h-2zM779 438h1v1h-1zM782 438h1v1h-1zM779 439h1v1h-1zM782 439h1v1h-1zM780 440h2v1h-2zM779 441h1v1h-1zM782 441h1v1h-1zM779 442h1v1h-1zM782 442h1v1h-1zM780 443h2v1h-2zM786 437h1v1h-1zM785 438h2v1h-2zM786 439h1v1h-1zM786 440h1v1h-1zM786 441h1v1h-1zM786 442h1v1h-1zM785 443h3v1h-3zM773 469h1v1h-1zM772 470h2v1h-2zM773 471h1v1h-1zM773 472h1v1h-1zM773 473h1v1h-1zM773 474h1v1h-1zM772 475h3v1h-3zM777 475h1v1h-1zM780 469h2v1h-2zM779 470h1v1h-1zM782 470h1v1h-1zM779 471h1v1h-1zM782 471h1v1h-1zM780 472h2v1h-2zM779 473h1v1h-1zM782 473h1v1h-1zM779 474h1v1h-1zM782 474h1v1h-1zM780 475h2v1h-2zM785 469h2v1h-2zM784 470h1v1h-1zM787 470h1v1h-1zM784 471h1v1h-1zM787 471h1v1h-1zM784 472h1v1h-1zM787 472h1v1h-1zM784 473h1v1h-1zM787 473h1v1h-1zM784 474h1v1h-1zM787 474h1v1h-1zM785 475h2v1h-2z" fill="#fff"/>
<rect x="768" y="36" width="20" height="11" fill="#fff"/>
<path d="M771 38h3v1h-3zM774 39h1v1h-1zM774 40h1v1h-1zM773 41h1v1h-1zM772 42h1v1h-1zM771 43h1v1h-1zM771 44h4v1h-4zM777 44h1v1h-1zM780 38h2v1h-2zM779 39h1v1h-1zM782 39h1v1h-1zM779 40h1v1h-1zM782 40h1v1h-1zM779 41h1v1h-1zM782 41h1v1h-1zM779 42h1v1h-1zM782 42h1v1h-1zM779 43h1v1h-1zM782 43h1v1h-1zM780 44h2v1h-2zM785 38h2v1h-2zM784 39h1v1h-1zM787 39h1v1h-1zM784 40h1v1h-1zM787 40h1v1h-1zM784 41h1v1h-1zM787 41h1v1h-1zM784 42h1v1h-1zM787 42h1v1h-1zM784 43h1v1h-1zM787 43h1v1h-1zM785 44h2v1h-2z" fill="#000"/>
<rect x="766" y="479" width="2" height="1" fill="#fff"/>
<path d="M771 481h1v1h-1zM770 482h2v1h-2zM771 483h1v1h-1zM771 484h1v1h-1zM771 485h1v1h-1zM771 486h1v1h-1zM770 487h3v1h-3zM775 481h2v1h-2zM774 482h1v1h-1zM777 482h1v1h-1zM774 483h1v1h-1zM777 483h1v1h-1zM774 484h1v1h-1zM777 484h1v1h-1zM774 485h1v1h-1zM777 485h1v1h-1zM774 486h1v1h-1zM777 486h1v1h-1zM775 487h2v1h-2zM780 481h2v1h-2zM779 482h1v1h-1zM782 482h1v1h-1zM779 483h1v1h-1zM782 483h1v1h-1zM779 484h1v1h-1zM782 484h1v1h-1zM779 485h1v1h-1zM782 485h1v1h-1zM779 486h1v1h-1zM782 486h1v1h-1zM780 487h2v1h-2zM768 649h4v1h-4zM768 650h1v1h-1zM768 651h1v1h-1zM768 652h3v1h-3zM771 653h1v1h-1zM771 654h1v1h-1zM768 655h3v1h-3zM774 649h2v1h-2zM773 650h1v1h-1zM776 650h1v1h-1zM773 651h1v1h-1zM776 651h1v1h-1zM773 652h1v1h-1zM776 652h1v1h-1zM773 653h1v1h-1zM776 653h1v1h-1zM773 654h1v1h-1zM776 654h1v1h-1zM774 655h2v1h-2z" fill="#fff"/>
<line x1="0" y1="653.5" x2="765" y2="653.5" stroke="#ba55d3" stroke-width="1" stroke-dasharray="3,3" transform="translate(1,0)"/>
<line x1="0" y1="706" x2="634" y2="478" stroke="#778899" stroke-width="1" shape-rendering="crispEdges"/>
<line x1="221" y1="687" x2="736" y2="478" stroke="#778899" stroke-width="1" shape-rendering="crispEdges"/>
<line x1="432" y1="608" x2="765" y2="531" stroke="#778899" stroke-width="1" shape-rendering="crispEdges"/>
<line x1="0" y1="710" x2="766" y2="620" stroke="#778899" stroke-width="1" shape-rendering="crispEdges"/>
<line x1="388" y1="724" x2="704" y2="478" stroke="#778899" stroke-width="1" shape-rendering="crispEdges"/>
<polyline points="0.5,663.5 4.5,668.5 8.5,645.5 12.5,635.5 16.5,656.5 20.5,658.5 24.5,650.5 28.5,622.5 32.5,613.5 36.5,605.5 40.5,597.5 44.5,595.5 48.5,595.5 52.5,617.5 56.5,627.5 60.5,611.5 64.5,613.5 68.5,614.5 72.5,602.5 76.5,628.5 80.5,645.5 84.5,663.5 88.5,664.5 92.5,650.5 96.5,642.5 100.5,637.5 104.5,605.5 108.5,603.5 112.5,580.5 116.5,571.5 120.5,558.5 124.5,573.5 128.5,555.5 132.5,546.5 136.5,544.5 140.5,560.5 144.5,581.5 148.5,592.5 152.5,615.5 156.5,609.5 160.5,593.5 164.5,604.5 168.5,616.5 172.5,632.5 176.5,641.5 180.5,612.5 184.5,622.5 188.5,626.5 192.5,629.5 196.5,642.5 200.5,637.5 204.5,627.5 208.5,636.5 212.5,614.5 216.5,645.5 220.5,664.5 224.5,683.5 228.5,670.5 232.5,667.5 236.5,678.5 240.5,655.5 244.5,638.5 248.5,630.5 252.5,635.5 256.5,624.5 260.5,617.5 264.5,619.5 268.5,615.5 272.5,608.5 276.5,632.5 280.5,643.5 284.5,653.5 288.5,650.5 292.5,646.5 296.5,640.5 300.5,638.5 304.5,637.5 308.5,654.5 312.5,631.5 316.5,632.5 320.5,653.5 324.5,675.5 328.5,682.5 332.5,683.5 336.5,647.5 340.5,668.5 344.5,670.5 348.5,666.5 352.5,659.5 356.5,661.5 360.5,655.5 364.5,639.5 368.5,638.5 372.5,643.5 376.5,637.5 380.5,652.5 384.5,690.5 388.5,723.5 392.5,697.5 396.5,694.5 400.5,700.5 404.5,690.5 408.5,690.5 412.5,695.5 416.5,675.5 420.5,673.5 424.5,663.5 428.5,652.5 432.5,618.5 436.5,608.5 440.5,615.5 444.5,623.5 448.5,610.5 452.5,621.5 456.5,631.5 460.5,631.5 464.5,618.5 468.5,601.5 472.5,610.5 476.5,607.5 480.5,621.5 484.5,637.5 488.5,646.5 492.5,625.5 496.5,620.5 500.5,610.5 504.5,599.5 508.5,592.5 512.5,569.5 516.5,567.5 520.5,582.5" fill="none" stroke="#1e90ff" stroke-width="1" stroke-linejoin="round" shape-rendering="crispEdges"/>
<path d="M18,10.5 L18,24.5 L21.5,21 L25,29.5 L27,29.5 L24,20.8 L27.5,20.3 Z" fill="#fff"/>
<g class="tg"></g>
</svg></body></html>
